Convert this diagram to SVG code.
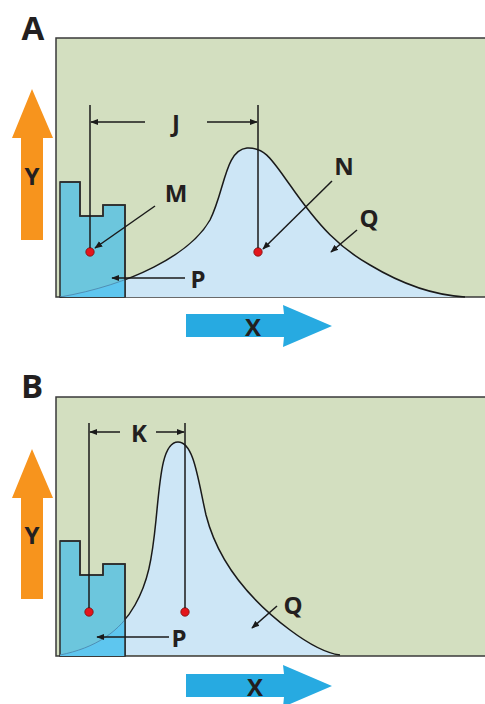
<svg xmlns="http://www.w3.org/2000/svg" width="485" height="704" viewBox="0 0 485 704">
<style>
.lbl{font-family:"Open Sans","Liberation Sans",sans-serif;font-weight:bold;fill:#231f20;text-anchor:middle;dominant-baseline:central}
.big{font-size:33px}
.mid{font-size:24px}
.ax{font-size:24px}
.box{fill:#d3dfc0;stroke:#3a3a3a;stroke-width:1.5}
.peak{fill:#cde6f6;stroke:#1a1a1a;stroke-width:1.5}
.bar{fill:#6cc6dd;stroke:#2b2b2b;stroke-width:1.5}
.ln{stroke:#1a1a1a;stroke-width:1.5;fill:none}
.arr{stroke:#1a1a1a;stroke-width:1.5;fill:none;marker-end:url(#ah)}
.dot{fill:#e3151b;stroke:#7a1010;stroke-width:0.8}
.yarr{fill:#f7941d}
.xarr{fill:#27aae1}
</style>
<defs>
<marker id="ah" viewBox="0 0 10 10" refX="9" refY="5" markerWidth="8" markerHeight="8" markerUnits="userSpaceOnUse" orient="auto">
<path d="M0,1 L10,5 L0,9 Z" fill="#1a1a1a"/>
</marker>
<path id="curveA" d="M 60,297 C 130,285 190,255 210,220 C 225,190 225,150 247,148 C 265,147 272,160 290,185 C 320,228 340,248 370,265 C 400,283 430,295 465,297"/>
<path id="curveB" d="M 60,655 C 95,648 120,632 135,605 C 148,582 152,560 156,520 C 160,480 162,442 178,442 C 194,442 198,480 206,515 C 218,562 250,600 290,630 C 310,645 325,653 340,655"/>
<clipPath id="barA"><path d="M60,182 H80 V216 H103 V205 H125 V297 H60 Z"/></clipPath>
<clipPath id="barB"><path d="M60,541 H80 V575 H103 V564 H125 V656 H60 Z"/></clipPath>
</defs>

<g id="panelA">
<text class="lbl big" x="33" y="27">A</text>
<rect class="box" x="56" y="38" width="432" height="259"/>
<g id="peakA"><use href="#curveA" class="peak"/></g>
<g id="barA-node">
<path class="bar" d="M60,182 H80 V216 H103 V205 H125 V297 H60 Z"/>
<g clip-path="url(#barA)">
<path d="M 60,297 C 130,285 190,255 210,220 L 210,300 L 60,300 Z" fill="#5ec6ef"/>
<use href="#curveA" fill="none" stroke="#4f8fb5" stroke-width="1"/>
</g>
<path d="M60,182 H80 V216 H103 V205 H125 V297" fill="none" stroke="#2b2b2b" stroke-width="1.5"/>
</g>
<g id="yA"><path class="yarr" d="M32,89 L53,138 L43,138 L43,240 L21,240 L21,138 L12,138 Z"/><text class="lbl ax" x="32" y="175">Y</text></g>
<g id="xA"><path class="xarr" d="M186,314 L284,314 L283,305 L332,326 L283,347 L284,337 L186,337 Z"/><text class="lbl ax" x="253" y="326">X</text></g>
<g id="labelsA">
<text class="lbl mid" x="176" y="122">J</text>
<text class="lbl mid" x="176" y="192">M</text>
<text class="lbl mid" x="344" y="165">N</text>
<text class="lbl mid" x="369" y="217">Q</text>
<text class="lbl mid" x="198" y="278">P</text>
</g>
<g id="dotsA"><circle class="dot" cx="90" cy="252" r="4.2"/><circle class="dot" cx="258" cy="252" r="4.2"/></g>
</g>

<g id="panelB">
<text class="lbl big" x="32" y="385">B</text>
<rect class="box" x="56" y="397" width="432" height="259"/>
<g id="peakB"><use href="#curveB" class="peak"/></g>
<g id="barB-node">
<path class="bar" d="M60,541 H80 V575 H103 V564 H125 V656 H60 Z"/>
<g clip-path="url(#barB)">
<path d="M 60,655 C 95,648 120,632 135,605 L 135,660 L 60,660 Z" fill="#5ec6ef"/>
<use href="#curveB" fill="none" stroke="#4f8fb5" stroke-width="1"/>
</g>
<path d="M60,541 H80 V575 H103 V564 H125 V656" fill="none" stroke="#2b2b2b" stroke-width="1.5"/>
</g>
<g id="yB"><path class="yarr" d="M32,449 L53,498 L43,498 L43,599 L21,599 L21,498 L12,498 Z"/><text class="lbl ax" x="32" y="534">Y</text></g>
<g id="xB"><path class="xarr" d="M186,674 L284,674 L283,665 L332,686 L283,707 L284,697 L186,697 Z"/><text class="lbl ax" x="255" y="686">X</text></g>
<g id="labelsB">
<text class="lbl mid" x="139" y="432">K</text>
<text class="lbl mid" x="293" y="604">Q</text>
<text class="lbl mid" x="179" y="637">P</text>
</g>
<g id="dotsB"><circle class="dot" cx="89" cy="612" r="4.2"/><circle class="dot" cx="185" cy="612" r="4.2"/></g>
</g>

<g id="connectors">
<line class="ln" x1="90" y1="105" x2="90" y2="248"/>
<line class="ln" x1="258" y1="105" x2="258" y2="248"/>
<line class="arr" x1="145" y1="122" x2="91" y2="122"/>
<line class="arr" x1="207" y1="122" x2="257" y2="122"/>
<line class="arr" x1="155" y1="206" x2="95" y2="248"/>
<line class="arr" x1="332" y1="181" x2="263" y2="249"/>
<line class="arr" x1="357" y1="230" x2="331" y2="252"/>
<line class="arr" x1="185" y1="278" x2="112" y2="278"/>
<line class="ln" x1="89" y1="423" x2="89" y2="608"/>
<line class="ln" x1="185" y1="423" x2="185" y2="608"/>
<line class="arr" x1="120" y1="432" x2="90" y2="432"/>
<line class="arr" x1="156" y1="432" x2="184" y2="432"/>
<line class="arr" x1="277" y1="606" x2="252" y2="628"/>
<line class="arr" x1="169" y1="637" x2="97" y2="637"/>
</g>
</svg>
